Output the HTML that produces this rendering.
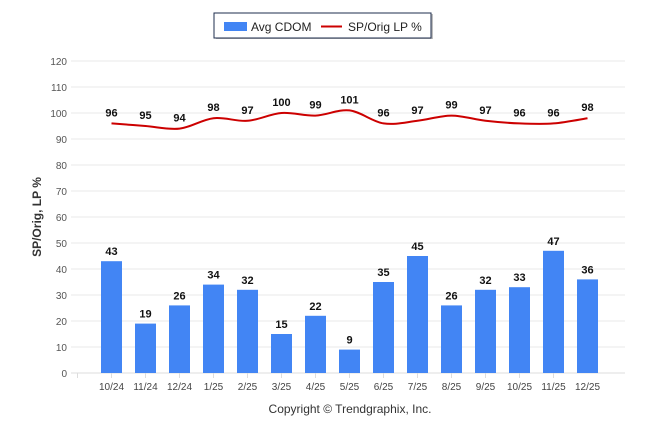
<!DOCTYPE html>
<html><head><meta charset="utf-8"><style>
body{margin:0;background:#fff;font-family:"Liberation Sans",sans-serif}
svg text{font-family:"Liberation Sans",sans-serif}
</style></head><body>
<svg id="c" width="646" height="434">
<g>
<rect x="216" y="14" width="217" height="25" fill="#444" opacity="0.35"/>
<rect x="214" y="13" width="217" height="25" fill="#fff" stroke="#1d2c4c" stroke-width="1"/>
<rect x="224" y="22" width="23" height="9" fill="#4285f4"/>
<text x="251" y="31" font-size="12" fill="#222">Avg CDOM</text>
<line x1="321" y1="26.5" x2="342" y2="26.5" stroke="#cc0000" stroke-width="2"/>
<text x="348" y="31" font-size="12" fill="#222">SP/Orig LP %</text>
</g>
<text transform="translate(41,217) rotate(-90)" text-anchor="middle" font-size="12" font-weight="bold" fill="#333">SP/Orig, LP %</text>
<text x="350" y="413" text-anchor="middle" font-size="12" fill="#333">Copyright © Trendgraphix, Inc.</text>
<g id="grid"></g><g id="bars"></g><g id="line"></g><g id="labels"></g>
</svg>
<script>
const categories=["10/24","11/24","12/24","1/25","2/25","3/25","4/25","5/25","6/25","7/25","8/25","9/25","10/25","11/25","12/25"];
const cdom=[43,19,26,34,32,15,22,9,35,45,26,32,33,47,36];
const sp=[96,95,94,98,97,100,99,101,96,97,99,97,96,96,98];
const yTicks=[0,10,20,30,40,50,60,70,80,90,100,110,120];
const NS="http://www.w3.org/2000/svg";
const y=v=>373-v*2.6;
const x=i=>111.5+i*34;
function mk(t,a,p){const e=document.createElementNS(NS,t);for(const k in a)e.setAttribute(k,a[k]);document.getElementById(p).appendChild(e);return e;}
yTicks.forEach(v=>{
 const l=mk('line',{x1:71,x2:625,y1:y(v),y2:y(v),stroke:v==0?'#ddd':'#e8e8e8','stroke-width':1},'grid');
 
 
 const t=mk('text',{x:67,y:y(v)+4,'text-anchor':'end','font-size':10,fill:'#555'},'grid');
 t.textContent=v;
 
 
});
categories.forEach((c,i)=>{
 const tk=mk('line',{x1:x(i)-34,x2:x(i)-34,y1:373,y2:378,stroke:'#ddd'},'grid');
 
 
 const t=mk('text',{x:x(i),y:390,'text-anchor':'middle','font-size':10,fill:'#444'},'grid');
 t.textContent=c;
 
 
 const b=mk('rect',{x:x(i)-10.5,y:y(cdom[i]),width:21,height:cdom[i]*2.6,fill:'#4285f4'},'bars');
 
 
 const bl=mk('text',{x:x(i),y:y(cdom[i])-6,'text-anchor':'middle','font-size':11,'font-weight':'bold',fill:'#111'},'labels');
 bl.textContent=cdom[i];
 
 
 const ll=mk('text',{x:x(i),y:y(sp[i])-7,'text-anchor':'middle','font-size':11,'font-weight':'bold',fill:'#111'},'labels');
 ll.textContent=sp[i];
 
 
});
const P=sp.map((v,i)=>[x(i),y(v)]);
let d='M'+P[0][0]+','+P[0][1];
for(let i=0;i<P.length-1;i++){
 const p0=P[i-1]||P[i],p1=P[i],p2=P[i+1],p3=P[i+2]||P[i+1];
 const c1=[p1[0]+(p2[0]-p0[0])/6,p1[1]+(p2[1]-p0[1])/6],c2=[p2[0]-(p3[0]-p1[0])/6,p2[1]-(p3[1]-p1[1])/6];
 d+=`C${c1[0]},${c1[1]} ${c2[0]},${c2[1]} ${p2[0]},${p2[1]}`;
}
const ln=mk('path',{d:d,fill:'none',stroke:'#cc0000','stroke-width':2},'line');


</script>
</body></html>
